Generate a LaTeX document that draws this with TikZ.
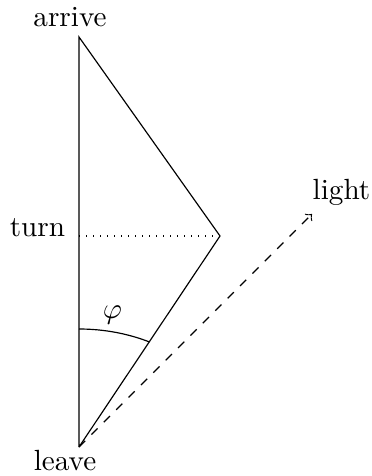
\documentclass[tikz,border=0pt]{standalone}
\usetikzlibrary{arrows}
\begin{document}
\begin{tikzpicture}[x=0.3425pt,y=-0.3425pt,
  lbl/.style={anchor=base,inner sep=0pt},
  worldline/.style={line width=0.4pt},
  lightray/.style={dashed,->}]
\useasboundingbox (0,0) rectangle (372,476);
\coordinate (leave) at (79,447);
\coordinate (arrive) at (79,37);
\coordinate (turnpt) at (79,236);
\coordinate (tip) at (220,236);
\coordinate (lightend) at (312,214);
\coordinate (arcstart) at (79,329);
\draw[worldline] (leave) -- (arrive) -- (tip) -- (leave);
\draw[dotted] (turnpt) -- (tip);
\draw[lightray] (leave) -- (lightend);
\draw (arcstart) arc[start angle=90,end angle=62.9,x radius=52.95pt,y radius=40.42pt];
\node[lbl] (arrivelbl) at (70,26.5) {arrive};
\node[lbl] (leavelbl) at (65,470) {leave};
\node[lbl] (turnlbl) at (37.5,236.5) {turn};
\node[lbl] (lightlbl) at (341.5,199) {light};
\node (philbl) at (112.5,315) {$\varphi$};
\end{tikzpicture}
\end{document}
